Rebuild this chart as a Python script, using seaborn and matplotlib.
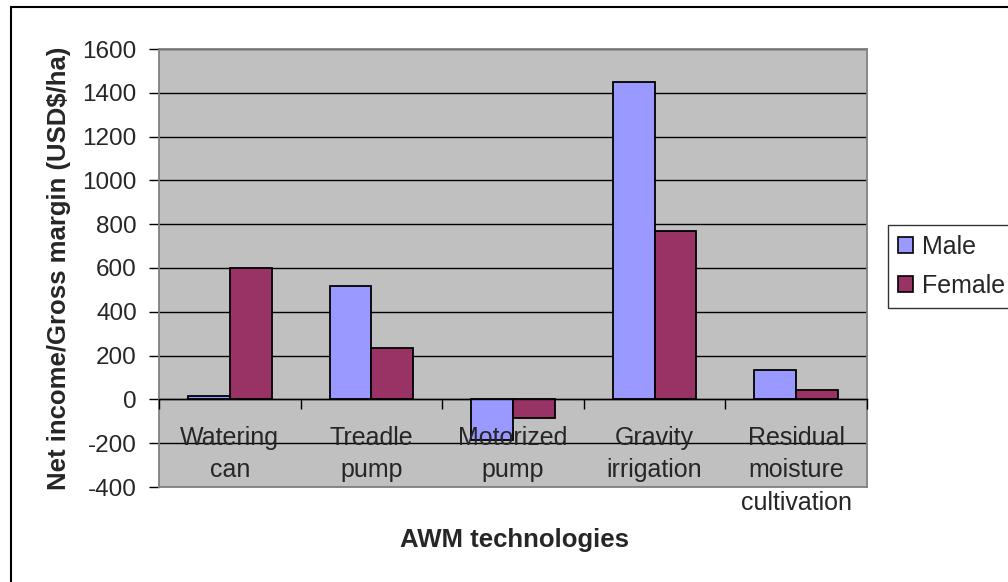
import pandas as pd
import matplotlib.pyplot as plt
import seaborn as sns
from matplotlib.patches import Rectangle, Patch

# Chart data
technologies = ['Watering\ncan', 'Treadle\npump', 'Motorized\npump',
                'Gravity\nirrigation', 'Residual\nmoisture\ncultivation']
male = [15, 520, -185, 1450, 136]
female = [600, 236, -87, 767, 44]
groups = ['Male', 'Female']
y_ticks = [-400, -200, 0, 200, 400, 600, 800, 1000, 1200, 1400, 1600]

df = pd.DataFrame({
    'tech': technologies * 2,
    'value': male + female,
    'gender': ['Male'] * len(male) + ['Female'] * len(female),
})

sns.set_theme(style="white")
plt.rcParams['font.family'] = ['Liberation Sans', 'DejaVu Sans']

colors = ['#9999FF', '#993366']

fig = plt.figure(figsize=(10.08, 5.82), dpi=100)
ax = fig.add_axes([159 / 1008, 1 - 487 / 582, 708 / 1008, 438 / 582])
ax.set_facecolor('#C0C0C0')

sns.barplot(data=df, x='tech', y='value', hue='gender', hue_order=groups,
            palette=colors, width=0.59, edgecolor='black', linewidth=1.3,
            saturation=1, legend=False, ax=ax, zorder=3)

ax.set_ylim(-400, 1600)
ax.set_xlim(-0.5, len(technologies) - 0.5)
ax.set_yticks(y_ticks)
ax.set_yticklabels([str(v) for v in y_ticks], fontsize=17.5)
ax.tick_params(axis='y', direction='out', length=7, width=1, color='black',
               left=True, pad=9)
ax.yaxis.grid(True, color='black', linewidth=1)
ax.set_axisbelow(True)
for s in ax.spines.values():
    s.set_color('#808080')
    s.set_linewidth(1.3)

# category axis sits at y = 0
ax.set_xticks([])
ax.set_xlabel('')
ax.set_ylabel('Net income/Gross margin (USD$/ha)', fontsize=18.5,
              fontweight='bold', labelpad=8)
secax = ax.secondary_xaxis(400 / 2000)
secax.set_zorder(4)
secax.set_xticks(range(len(technologies)))
secax.set_xticklabels(technologies, fontsize=18, va='top', linespacing=1.45)
secax.set_xticks([i - 0.5 for i in range(len(technologies) + 1)], minor=True)
secax.tick_params(axis='x', which='major', length=0, pad=19)
secax.tick_params(axis='x', which='minor', direction='out', length=7,
                  width=1, color='black', bottom=True)
secax.spines['bottom'].set_color('black')
secax.spines['bottom'].set_linewidth(1)

fig.text(515 / 1008, 1 - 540 / 582, 'AWM technologies', fontsize=18.5,
         fontweight='bold', ha='center', va='center')

handles = [Patch(facecolor=c, edgecolor='black', linewidth=1.2) for c in colors]
leg = fig.legend(handles, groups, loc='upper left',
                 bbox_to_anchor=(888 / 1008, 1 - 225 / 582),
                 fontsize=18, frameon=True, fancybox=False,
                 handlelength=0.6, handleheight=0.6, handletextpad=0.35,
                 borderpad=0.4, labelspacing=0.6, borderaxespad=0)
leg.get_frame().set_edgecolor('black')
leg.get_frame().set_linewidth(1)

# outer chart frame
fig.patches.append(Rectangle((11 / 1008, -0.2), 1.2, 1.2 - 7 / 582,
                             transform=fig.transFigure, fill=False,
                             edgecolor='black', linewidth=1.5))

fig.savefig('out.png', dpi=100)
